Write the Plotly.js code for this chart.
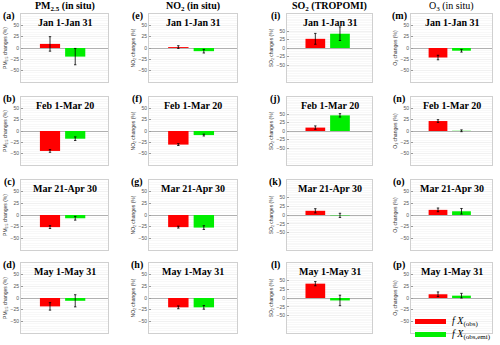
<!DOCTYPE html>
<html><head><meta charset="utf-8">
<script src="https://cdn.plot.ly/plotly-3.0.1.min.js"></script>
<style>html,body{margin:0;padding:0;background:#fff}#chart{width:500px;height:345px}</style>
</head><body><div id="chart"></div>
<script>
// ---- data ----
const periods = ['Jan 1-Jan 31', 'Feb 1-Mar 20', 'Mar 21-Apr 30', 'May 1-May 31'];
const speciesNames = ['PM<sub>2.5</sub>', 'NO<sub>2</sub>', 'SO<sub>2</sub>', 'O<sub>3</sub>'];
const columnTitles = ['PM<sub>2.5</sub> (in situ)', 'NO<sub>2</sub> (in situ)', 'SO<sub>2</sub> (TROPOMI)', 'O<sub>3</sub> (in situ)'];
const panelLetters = ['a','b','c','d','e','f','g','h','i','j','k','l','m','n','o','p'];
const tickValues = [-50, -25, 0, 25, 50];
const seriesNames = ['<i>f</i> <i>X</i><sub>(obs)</sub>', '<i>f</i> <i>X</i><sub>(obs,emi)</sub>'];

const pm25Obs    = [9, -44, -26, -18];
const pm25ObsErr = [16, 3, 3, 8];
const pm25Emi    = [-19, -17, -7, -6];
const pm25EmiErr = [18, 4, 4, 13];

const no2Obs    = [2, -30, -26, -20];
const no2ObsErr = [3, 2, 2, 3];
const no2Emi    = [-7, -9, -27, -20];
const no2EmiErr = [4, 2, 4, 4];

const so2Obs    = [27, 10, 12, 41];
const so2ObsErr = [16, 5, 6, 6];
const so2Emi    = [42, 46, -1, -7];
const so2EmiErr = [20, 5, 6, 15];

const o3Obs    = [-21, 22, 11, 8];
const o3ObsErr = [5, 3, 4, 5];
const o3Emi    = [-6, 0.5, 8, 5];
const o3EmiErr = [3, 2, 6, 5];

const yLimits = [75, 75, 100, 75];

// ---- build ----
const obsAll = [pm25Obs, no2Obs, so2Obs, o3Obs];
const obsErrAll = [pm25ObsErr, no2ObsErr, so2ObsErr, o3ObsErr];
const emiAll = [pm25Emi, no2Emi, so2Emi, o3Emi];
const emiErrAll = [pm25EmiErr, no2EmiErr, so2EmiErr, o3EmiErr];

const W = 500, H = 345;
const colX = [[21,108],[149,237],[287,372],[411,492]];
const rowY = [[14,82],[97,165],[180,250],[263,333]];
const RED = '#ff0000', GREEN = '#00ee00';
const serif = 'Liberation Serif, Times New Roman, serif';
const sans = 'Liberation Sans, Arial, sans-serif';

const traces = [];
const layout = {
  width: W, height: H, margin: {l:0, r:0, t:0, b:0},
  paper_bgcolor: '#fff', plot_bgcolor: '#fff', showlegend: false,
  annotations: [], shapes: []
};

for (let c = 0; c < 4; c++) {
  for (let r = 0; r < 4; r++) {
    const n = c * 4 + r + 1;
    const xs = n === 1 ? 'x' : 'x' + n, ys = n === 1 ? 'y' : 'y' + n;
    const xk = n === 1 ? 'xaxis' : 'xaxis' + n, yk = n === 1 ? 'yaxis' : 'yaxis' + n;
    traces.push({
      type: 'bar', x: [1, 2], y: [obsAll[c][r], emiAll[c][r]],
      xaxis: xs, yaxis: ys, width: 0.8,
      marker: {color: [RED, GREEN], line: {width: 0}},
      error_y: {type: 'data', array: [obsErrAll[c][r], emiErrAll[c][r]], color: '#000', thickness: 0.8, width: 1.2},
      hoverinfo: 'none'
    });
    layout[xk] = {
      domain: [colX[c][0] / W, colX[c][1] / W], anchor: ys,
      range: [-0.15, 3.3], showticklabels: false, ticks: '', showgrid: false, zeroline: false,
      showline: true, mirror: true, linecolor: '#d0d0d0', linewidth: 1, fixedrange: true
    };
    layout[yk] = {
      domain: [1 - rowY[r][1] / H, 1 - rowY[r][0] / H], anchor: xs,
      range: [-yLimits[c], yLimits[c]], tickvals: tickValues,
      ticks: 'inside', ticklen: 2, tickcolor: '#999',
      tickfont: {family: sans, size: 5, color: '#555'},
      showgrid: true, gridcolor: '#ececec', gridwidth: 0.6,
      minor: {dtick: 5, showgrid: true, gridcolor: '#f2f2f2', gridwidth: 0.5},
      zeroline: true, zerolinecolor: '#b0b0b0', zerolinewidth: 1,
      showline: true, mirror: true, linecolor: '#d0d0d0', linewidth: 1,
      automargin: false, fixedrange: true,
      title: {text: speciesNames[c] + ' changes (%)', font: {family: sans, size: 5, color: '#333'}, standoff: 2}
    };
    layout.annotations.push({
      xref: xs + ' domain', yref: ys + ' domain', x: 0.5, y: 1, yanchor: 'top', yshift: -1,
      text: '<b>' + periods[r] + '</b>', showarrow: false,
      font: {family: serif, size: 10, color: '#000'}
    });
    layout.annotations.push({
      xref: 'paper', yref: 'paper', x: (colX[c][0] - 12) / W, y: 1 - (rowY[r][0] + 2) / H,
      xanchor: 'center', yanchor: 'middle',
      text: '<b>(' + panelLetters[n - 1] + ')</b>', showarrow: false,
      font: {family: serif, size: 10, color: '#000'}
    });
  }
  layout.annotations.push({
    xref: 'paper', yref: 'paper', x: (colX[c][0] + colX[c][1]) / 2 / W, y: 1 - 7 / H,
    xanchor: 'center', yanchor: 'middle',
    text: c === 3 ? columnTitles[c] : '<b>' + columnTitles[c] + '</b>', showarrow: false,
    font: {family: serif, size: 10, color: '#000'}
  });
}

// legend
const legRows = [[319, 324], [332, 337]];
[RED, GREEN].forEach((col, i) => {
  layout.shapes.push({
    type: 'rect', xref: 'paper', yref: 'paper', layer: 'above',
    x0: 415 / W, x1: 446 / W, y0: 1 - legRows[i][1] / H, y1: 1 - legRows[i][0] / H,
    fillcolor: col, line: {width: 0}
  });
  layout.annotations.push({
    xref: 'paper', yref: 'paper', x: 450 / W, y: 1 - (legRows[i][0] + legRows[i][1]) / 2 / H,
    xanchor: 'left', yanchor: 'middle', showarrow: false, text: seriesNames[i],
    font: {family: serif, size: 10, color: '#000'}
  });
});

Plotly.newPlot('chart', traces, layout, {staticPlot: true, displayModeBar: false});
</script></body></html>
